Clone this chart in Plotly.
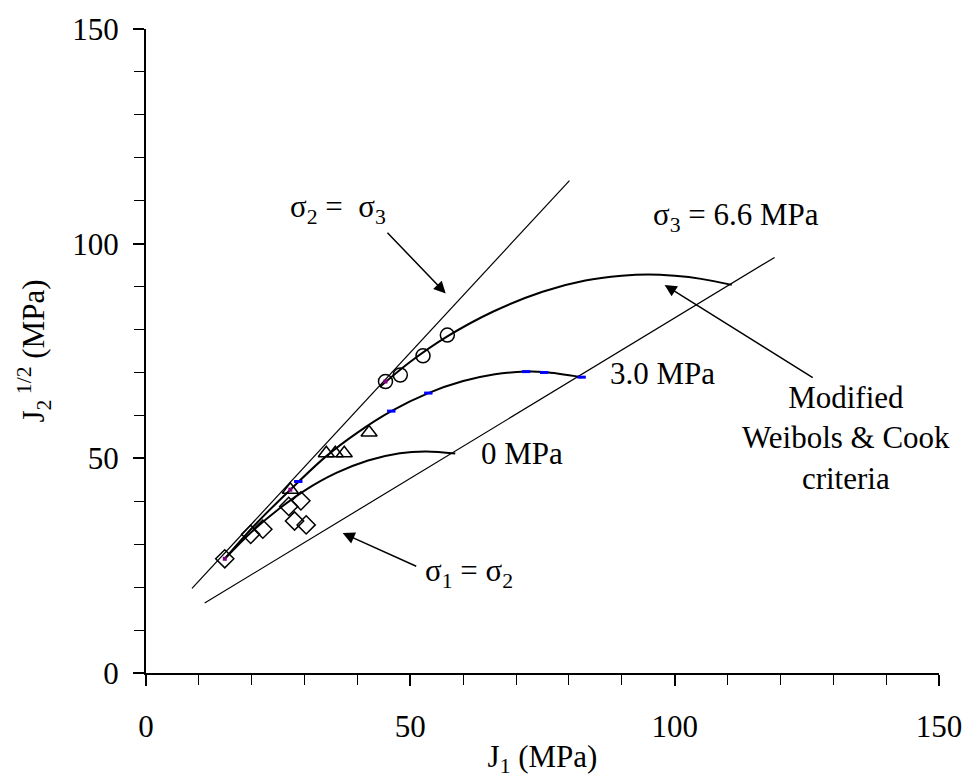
import plotly.graph_objects as go

# ---- data ----
diamond_x = [14.9, 19.8, 22.1, 27.0, 29.3, 28.1, 30.3]
diamond_y = [26.6, 32.3, 33.5, 38.8, 40.1, 35.4, 34.5]

triangle_x = [27.3, 34.1, 35.8, 37.5, 42.2]
triangle_y = [42.7, 51.2, 51.2, 51.2, 56.0]

circle_x = [45.3, 48.1, 52.4, 57.0]
circle_y = [67.9, 69.4, 73.9, 78.7]

# fitted criteria curves
curve0_x = [14.9, 20.0, 25.0, 30.0, 36.0, 42.0, 48.0, 53.0, 58.5]
curve0_y = [26.6, 32.9, 38.1, 42.5, 46.6, 49.5, 51.2, 51.6, 51.1]

curve3_x = [14.9, 21.0, 27.3, 34.0, 40.0, 46.4, 53.4, 60.0, 66.0, 71.9, 75.3, 82.4]
curve3_y = [26.6, 35.0, 42.7, 50.4, 56.0, 61.0, 65.2, 68.0, 69.6, 70.2, 70.1, 68.9]

curve66_x = [44.2, 50.0, 57.0, 65.7, 75.0, 83.1, 90.0, 95.0, 100.0, 105.0, 110.8]
curve66_y = [66.6, 72.5, 78.4, 84.2, 88.8, 91.4, 92.5, 92.8, 92.5, 91.8, 90.4]

blue_mark_x = [28.8, 46.4, 53.4, 71.9, 75.3, 82.4]
blue_mark_y = [44.6, 61.0, 65.2, 70.2, 70.0, 68.9]

purple_mark_x = [14.9, 27.3, 45.3]
purple_mark_y = [26.6, 42.7, 67.9]

# boundary lines
line23_x = [8.7, 80.1]
line23_y = [19.7, 114.7]
line12_x = [11.1, 118.9]
line12_y = [16.3, 96.8]

FONT = "Liberation Serif, Times New Roman, serif"
FS = 31

fig = go.Figure()

for lx, ly in [(line23_x, line23_y), (line12_x, line12_y)]:
    fig.add_trace(go.Scatter(x=lx, y=ly, mode="lines",
                             line=dict(color="black", width=1.2),
                             showlegend=False, hoverinfo="skip"))

for cx, cy in [(curve0_x, curve0_y), (curve3_x, curve3_y), (curve66_x, curve66_y)]:
    fig.add_trace(go.Scatter(x=cx, y=cy, mode="lines",
                             line=dict(color="black", width=2, shape="spline", smoothing=1.0),
                             showlegend=False, hoverinfo="skip"))

fig.add_trace(go.Scatter(x=diamond_x, y=diamond_y, mode="markers",
                         marker=dict(symbol="diamond-open", size=14, color="black",
                                     line=dict(width=1.5, color="black")),
                         showlegend=False))
fig.add_trace(go.Scatter(x=triangle_x, y=triangle_y, mode="markers",
                         marker=dict(symbol="triangle-up-open", size=14, color="black",
                                     line=dict(width=1.5, color="black")),
                         showlegend=False))
fig.add_trace(go.Scatter(x=circle_x, y=circle_y, mode="markers",
                         marker=dict(symbol="circle-open", size=14, color="black",
                                     line=dict(width=1.5, color="black")),
                         showlegend=False))
fig.add_trace(go.Scatter(x=blue_mark_x, y=blue_mark_y, mode="markers",
                         marker=dict(symbol="line-ew", size=6, color="blue",
                                     line=dict(width=3, color="blue")),
                         showlegend=False))
fig.add_trace(go.Scatter(x=purple_mark_x, y=purple_mark_y, mode="markers",
                         marker=dict(symbol="square", size=4, color="#800080"),
                         showlegend=False))

ann_font = dict(family=FONT, size=FS, color="black")
annotations = [
    dict(x=36.4, y=108.0, text="σ<sub>2</sub> =  σ<sub>3</sub>", showarrow=False, font=ann_font),
    dict(x=56.7, y=88.4, ax=45.4, ay=102.9, xref="x", yref="y", axref="x", ayref="y",
         text="", showarrow=True, arrowhead=2, arrowsize=1.6, arrowwidth=1.5, arrowcolor="black"),
    dict(x=61.1, y=23.2, text="σ<sub>1</sub> = σ<sub>2</sub>", showarrow=False, font=ann_font),
    dict(x=37.2, y=32.6, ax=51.4, ay=24.7, xref="x", yref="y", axref="x", ayref="y",
         text="", showarrow=True, arrowhead=2, arrowsize=1.6, arrowwidth=1.5, arrowcolor="black"),
    dict(x=63.0, y=51.1, text="0 MPa", showarrow=False, xanchor="left", font=ann_font),
    dict(x=87.4, y=69.7, text="3.0 MPa", showarrow=False, xanchor="left", font=ann_font),
    dict(x=111.6, y=106.2, text="σ<sub>3</sub> = 6.6 MPa", showarrow=False, font=ann_font),
    dict(x=132.4, y=54.8, text="Modified<br>Weibols & Cook<br>criteria", showarrow=False,
         align="center", font=ann_font),
    dict(x=98.1, y=90.4, ax=126.4, ay=68.6, xref="x", yref="y", axref="x", ayref="y",
         text="", showarrow=True, arrowhead=2, arrowsize=1.6, arrowwidth=1.5, arrowcolor="black"),
]
for a in annotations:
    a.setdefault("xref", "x")
    a.setdefault("yref", "y")
fig.update_layout(annotations=annotations)

axis_common = dict(
    range=[0, 150], tickvals=[0, 50, 100, 150], ticks="outside", ticklen=11, tickwidth=1.6,
    tickcolor="black", showline=True, linecolor="black", linewidth=2,
    showgrid=False, zeroline=False,
    tickfont=dict(family=FONT, size=FS, color="black"),
    minor=dict(dtick=10, ticks="outside", ticklen=10, tickwidth=1.3, tickcolor="black", showgrid=False),
)

fig.update_xaxes(**axis_common, ticklabelstandoff=14,
                 title=dict(text="J<sub>1</sub> (MPa)", font=dict(family=FONT, size=FS, color="black"),
                            standoff=2))
fig.update_yaxes(**axis_common, ticklabelstandoff=8,
                 title=dict(text="J<sub>2</sub><sup> 1/2</sup> (MPa)",
                            font=dict(family=FONT, size=FS, color="black"), standoff=18))

fig.update_layout(
    width=974, height=780,
    margin=dict(l=146, r=26, t=22, b=104),
    plot_bgcolor="white", paper_bgcolor="white",
    showlegend=False,
    font=dict(family=FONT, size=FS, color="black"),
)

fig.write_html("out.html")
